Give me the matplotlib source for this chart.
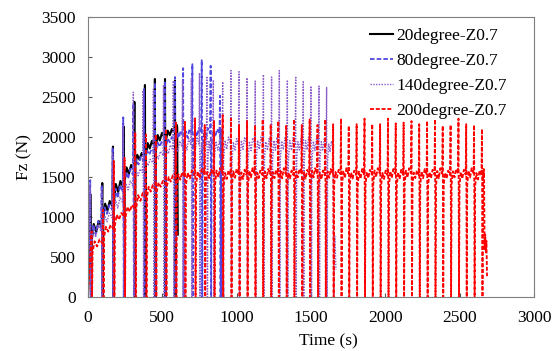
import matplotlib
matplotlib.use("Agg")
import matplotlib.pyplot as plt

plt.rcParams['font.family'] = ['Liberation Serif', 'DejaVu Serif']

# ---------------- data ----------------
labels = ["20degree-Z0.7", "80degree-Z0.7", "140degree-Z0.7", "200degree-Z0.7"]

# 20 degree
black_t = [18, 96, 168, 240, 312, 383, 450, 518, 585]
black_peak = [1280, 1425, 1880, 2130, 2440, 2650, 2725, 2725, 2705]
black_lo = [700, 980, 1200, 1450, 1650, 1780, 1880, 1960, 2060]
black_hi = [950, 1200, 1450, 1650, 1800, 1950, 2050, 2100, 2150]
black_end = 600
black_tail_t = [604]
black_tail_v = [780]

# 80 degree
blue_t = [15, 92, 166, 237, 305, 377, 450, 518, 585, 640, 702, 765, 825, 888]
blue_peak = [1460, 1400, 1870, 2245, 2420, 2600, 2680, 2700, 2750, 2860, 2910, 2960, 2890, 2515]
blue_lo = [650, 950, 1100, 1380, 1580, 1720, 1820, 1880, 1920, 1900, 1920, 1900, 1920, 1900]
blue_hi = [950, 1150, 1400, 1600, 1750, 1850, 1950, 2000, 2080, 2100, 2110, 2110, 2100, 2100]
blue_end = 893
blue_tail_t = [897, 903, 912]
blue_tail_v = [0, 950, 0]

# 140 degree
purple_t = [15, 92, 166, 237, 305, 370, 440, 508, 574, 636,
            695, 750, 800, 843, 906, 962, 1016, 1070, 1125, 1180,
            1235, 1287, 1341, 1397, 1448, 1500, 1554, 1605]
purple_peak = [1400, 1350, 1800, 2150, 2560, 2580, 2600, 2650, 2704, 2710,
               2730, 2800, 2760, 2712, 2690, 2830, 2816, 2740, 2700, 2780,
               2750, 2830, 2712, 2760, 2690, 2637, 2637, 2620]
purple_lo = [620, 850, 1000, 1250, 1450, 1580, 1650, 1700, 1700, 1720,
             1700, 1720, 1700, 1710, 1720, 1700, 1720, 1700, 1720, 1710,
             1700, 1720, 1700, 1720, 1710, 1700, 1720, 1700]
purple_hi = [900, 1050, 1250, 1450, 1600, 1720, 1820, 1900, 1950, 1980,
             2000, 1980, 2000, 1990, 2000, 1980, 2000, 1990, 2000, 1980,
             2000, 1990, 2000, 1980, 2000, 1990, 1980, 1950]
purple_end = 1648
purple_tail_t = [1653, 1660, 1668]
purple_tail_v = [0, 760, 340]

# 200 degree
red_t = [24, 101, 174, 246, 318, 390, 456, 524, 591, 652,
         720, 785, 848, 906, 962, 1016, 1070, 1123, 1175, 1229,
         1280, 1333, 1385, 1438, 1491, 1544, 1596, 1649, 1702, 1754,
         1807, 1860, 1912, 1965, 2018, 2070, 2123, 2176, 2228, 2281,
         2334, 2386, 2439, 2492, 2544, 2597, 2650]
red_peak = [820, 1090, 1700, 1740, 2060, 2030, 2030, 2100, 2180, 2190,
            2233, 2150, 2200, 2275, 2230, 2150, 2200, 2150, 2220, 2160,
            2200, 2150, 2220, 2150, 2220, 2150, 2220, 2160, 2230, 2140,
            2160, 2230, 2160, 2160, 2230, 2170, 2180, 2200, 2160, 2200,
            2220, 2140, 2150, 2230, 2160, 2150, 2100]
red_lo = [560, 750, 900, 1000, 1120, 1250, 1320, 1380, 1390, 1400,
          1390, 1400, 1410, 1390, 1400, 1380, 1400, 1410, 1390, 1400,
          1380, 1400, 1410, 1390, 1400, 1380, 1400, 1410, 1390, 1400,
          1380, 1400, 1410, 1390, 1400, 1380, 1400, 1410, 1390, 1400,
          1380, 1400, 1410, 1390, 1400, 1380, 1400]
red_hi = [720, 900, 1050, 1150, 1300, 1400, 1450, 1520, 1560, 1580,
          1600, 1590, 1610, 1580, 1600, 1590, 1610, 1580, 1600, 1590,
          1610, 1580, 1600, 1590, 1610, 1580, 1600, 1590, 1610, 1580,
          1600, 1590, 1610, 1580, 1600, 1590, 1610, 1580, 1600, 1590,
          1610, 1580, 1600, 1590, 1610, 1580, 1600]
red_end = 2664
red_tail_t = [2668, 2672, 2676, 2680, 2684]
red_tail_v = [600, 780, 560, 700, 260]

# shape of the signal between two pulses (fraction of cycle, fraction lo->hi)
cycle_frac = [0.0, 0.2, 0.45, 0.7, 1.0]
cycle_mix = [0.0, 0.85, 0.45, 1.0, 0.7]


def build(spk_t, peaks, lo, hi, t_end, tail_t, tail_v, e=3.5):
    xs, ys = [0.0], [0.0]
    for i, t in enumerate(spk_t):
        xs += [t, t + e, t + 2 * e]
        ys += [peaks[i], 0.0, lo[i]]
        t0 = t + 2 * e
        t1 = spk_t[i + 1] - e if i + 1 < len(spk_t) else t_end
        for f, m in zip(cycle_frac[1:], cycle_mix[1:]):
            xs.append(t0 + f * (t1 - t0))
            ys.append(lo[i] + m * (hi[i] - lo[i]))
    xs += tail_t
    ys += tail_v
    return xs, ys


series = [
    (build(black_t, black_peak, black_lo, black_hi, black_end, black_tail_t, black_tail_v),
     dict(color='black', lw=1.5, linestyle='-')),
    (build(blue_t, blue_peak, blue_lo, blue_hi, blue_end, blue_tail_t, blue_tail_v),
     dict(color='#5046E0', lw=1.3, dashes=(2.5, 1.2))),
    (build(purple_t, purple_peak, purple_lo, purple_hi, purple_end, purple_tail_t, purple_tail_v),
     dict(color='#8A5CC8', lw=1.0, dashes=(1.0, 1.0))),
    (build(red_t, red_peak, red_lo, red_hi, red_end, red_tail_t, red_tail_v),
     dict(color='#FF0000', lw=1.3, dashes=(2.2, 1.0))),
]

fig = plt.figure(figsize=(5.53, 3.51), dpi=100)
ax = fig.add_axes([88 / 553, 1 - 297 / 351, 446 / 553, 280 / 351])

for ((xs, ys), sty), lab in zip(series, labels):
    ax.plot(xs, ys, label=lab, **sty)

ax.set_xlim(0, 3000)
ax.set_ylim(0, 3500)
ax.set_xticks(range(0, 3001, 500))
ax.set_yticks(range(0, 3501, 500))
ax.tick_params(direction='in', length=3, width=0.8, color='#555555',
               labelsize=12.5, pad=9)
for sp in ax.spines.values():
    sp.set_color('#7f7f7f')
    sp.set_linewidth(0.8)

ax.set_xlabel("Time (s)", fontsize=12.5)
ax.set_ylabel("Fz (N)", fontsize=12.5)
ax.xaxis.set_label_coords(0.538, -0.13)
ax.yaxis.set_label_coords(-0.125, 0.5)

leg = ax.legend(loc='upper left', bbox_to_anchor=(370 / 553, 1 - 28 / 351),
                bbox_transform=fig.transFigure, frameon=False, fontsize=12.5,
                handlelength=1.35, handletextpad=0.15, labelspacing=0.5,
                borderpad=0, borderaxespad=0)

fig.savefig("out.png", dpi=100)
